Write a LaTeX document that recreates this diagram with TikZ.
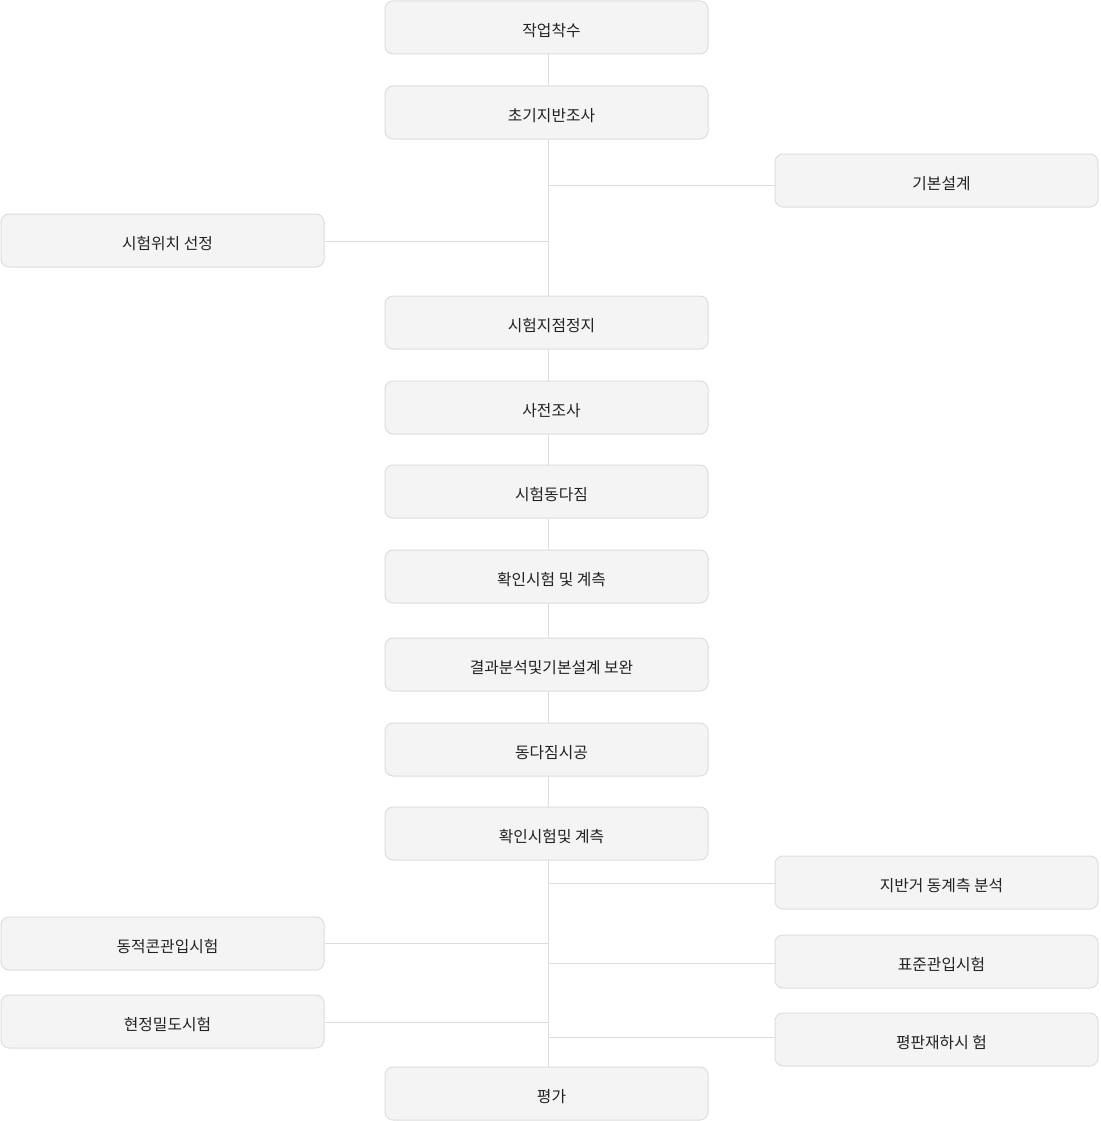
\documentclass[tikz,border=0pt]{standalone}
\usepackage{fontspec}
\setmainfont{Noto Sans CJK KR}
\definecolor{boxfill}{HTML}{F4F4F4}
\definecolor{boxline}{HTML}{DDDDDD}
\definecolor{txt}{HTML}{222222}
\newcommand{\bxt}[1]{\hspace*{10pt}#1}
\begin{document}
\begin{tikzpicture}[x=1pt,y=-1pt,
  stepbox/.style={draw=boxline,fill=boxfill,rounded corners=8pt,line width=1pt,
    minimum width=323pt,minimum height=53pt,inner sep=0pt,text=txt,
    text height=21pt,text depth=3pt,
    font=\fontsize{15.8}{18}\selectfont},
  conn/.style={draw=boxline,line width=1pt}]
\useasboundingbox (0,0) rectangle (1100,1121);
% center column
\node[stepbox] (n1) at (546.5,27.5) {\bxt{작업착수}};
\node[stepbox] (n2) at (546.5,112.5) {\bxt{초기지반조사}};
\node[stepbox] (n3) at (546.5,322.5) {\bxt{시험지점정지}};
\node[stepbox] (n4) at (546.5,407.5) {\bxt{사전조사}};
\node[stepbox] (n5) at (546.5,491.5) {\bxt{시험동다짐}};
\node[stepbox] (n6) at (546.5,576.5) {\bxt{확인시험 및 계측}};
\node[stepbox] (n7) at (546.5,664.5) {\bxt{결과분석및기본설계 보완}};
\node[stepbox] (n8) at (546.5,749.5) {\bxt{동다짐시공}};
\node[stepbox] (n9) at (546.5,833.5) {\bxt{확인시험및 계측}};
\node[stepbox] (n10) at (546.5,1093.5) {\bxt{평가}};
% side boxes
\node[stepbox] (r1) at (936.5,180.5) {\bxt{기본설계}};
\node[stepbox] (l1) at (162.5,240.5) {\bxt{시험위치 선정}};
\node[stepbox] (r2) at (936.5,882.5) {\bxt{지반거 동계측 분석}};
\node[stepbox] (l2) at (162.5,943.5) {\bxt{동적콘관입시험}};
\node[stepbox] (r3) at (936.5,961.5) {\bxt{표준관입시험}};
\node[stepbox] (l3) at (162.5,1021.5) {\bxt{현정밀도시험}};
\node[stepbox] (r4) at (936.5,1039.5) {\bxt{평판재하시 험}};
% spine coordinates
\coordinate (a1) at (548,185);
\coordinate (a2) at (548,241);
\coordinate (b1) at (548,883);
\coordinate (b2) at (548,943);
\coordinate (b3) at (548,963);
\coordinate (b4) at (548,1022);
\coordinate (b5) at (548,1037);
% vertical connectors
\draw[conn] (n1.south -| a1) -- (n2.north -| a1);
\draw[conn] (n2.south -| a1) -- (n3.north -| a1);
\draw[conn] (n3.south -| a1) -- (n4.north -| a1);
\draw[conn] (n4.south -| a1) -- (n5.north -| a1);
\draw[conn] (n5.south -| a1) -- (n6.north -| a1);
\draw[conn] (n6.south -| a1) -- (n7.north -| a1);
\draw[conn] (n7.south -| a1) -- (n8.north -| a1);
\draw[conn] (n8.south -| a1) -- (n9.north -| a1);
\draw[conn] (n9.south -| a1) -- (n10.north -| a1);
% branches
\draw[conn] (a1) -- (a1 -| r1.west);
\draw[conn] (a2) -- (a2 -| l1.east);
\draw[conn] (b1) -- (b1 -| r2.west);
\draw[conn] (b2) -- (b2 -| l2.east);
\draw[conn] (b3) -- (b3 -| r3.west);
\draw[conn] (b4) -- (b4 -| l3.east);
\draw[conn] (b5) -- (b5 -| r4.west);
\end{tikzpicture}
\end{document}
